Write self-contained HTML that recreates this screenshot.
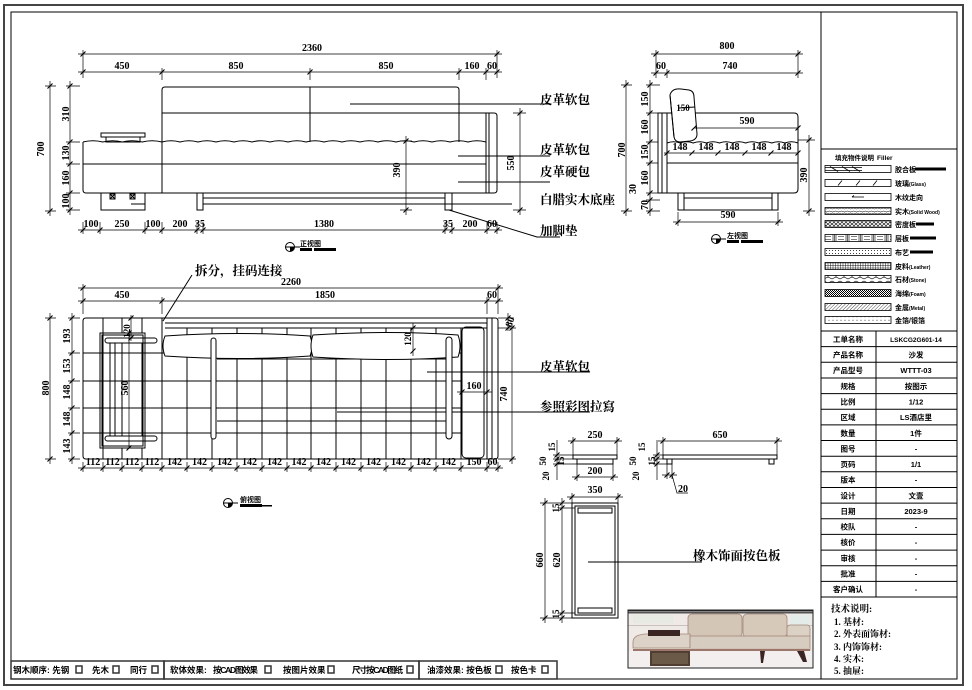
<!DOCTYPE html>
<html><head><meta charset="utf-8">
<style>
html,body{margin:0;padding:0;background:#fff;}
svg{display:block;}
.d{font-family:"Liberation Serif",serif;font-weight:bold;font-size:10px;text-anchor:middle;fill:#000;}
.ds{font-family:"Liberation Serif",serif;font-weight:bold;font-size:9px;text-anchor:middle;fill:#000;}
.L{font-family:"Liberation Serif","Noto Serif CJK SC",serif;font-weight:bold;font-size:12.5px;fill:#000;}
.t{font-family:"Liberation Sans","Noto Sans CJK SC",sans-serif;font-weight:bold;font-size:7.5px;text-anchor:middle;fill:#000;}
.lg{font-family:"Liberation Sans","Noto Sans CJK SC",sans-serif;font-weight:bold;font-size:7px;fill:#000;}
.lge{font-family:"Liberation Sans",sans-serif;font-weight:bold;font-size:5px;}
.b{font-family:"Liberation Sans","Noto Sans CJK SC",sans-serif;font-weight:bold;font-size:8.5px;fill:#000;}
.n{font-family:"Liberation Serif","Noto Serif CJK SC",serif;font-weight:bold;font-size:9px;fill:#000;}
.vt{font-family:"Liberation Sans","Noto Sans CJK SC",sans-serif;font-weight:bold;font-size:7px;fill:#000;}
</style></head><body>
<svg width="972" height="690" viewBox="0 0 972 690" xmlns="http://www.w3.org/2000/svg">
<defs>
<pattern id="pw" width="6" height="7" patternUnits="userSpaceOnUse"><path d="M0,1.5q1.5,-1 3,0t3,0M0,3.5q1.5,1 3,0t3,0M0,5.5q1.5,-1 3,0t3,0" stroke="#000" stroke-width="0.5" fill="none"/></pattern>
<pattern id="pm" width="4" height="3.5" patternUnits="userSpaceOnUse"><path d="M0,0L4,3.5M4,0L0,3.5" stroke="#000" stroke-width="0.6"/></pattern>
<pattern id="pl" width="13" height="7" patternUnits="userSpaceOnUse"><path d="M1,0V7M2.5,0V7M4,0V7M6,1.5H12M6,5.5H12" stroke="#000" stroke-width="0.6" fill="none"/></pattern>
<pattern id="pf" width="3" height="3" patternUnits="userSpaceOnUse"><circle cx="1.5" cy="1.5" r="0.5" fill="#000"/></pattern>
<pattern id="pg" width="2.5" height="2.5" patternUnits="userSpaceOnUse"><path d="M0,0.5H2.5M0.5,0V2.5" stroke="#000" stroke-width="0.45"/></pattern>
<pattern id="ps" width="8" height="7" patternUnits="userSpaceOnUse"><path d="M0,1L4,3L8,1M0,6L4,4L8,6M4,3V4" stroke="#000" stroke-width="0.6" fill="none"/></pattern>
<pattern id="pfo" width="2" height="2" patternUnits="userSpaceOnUse"><rect width="1" height="1" fill="#000"/><rect x="1" y="1" width="1" height="1" fill="#000"/></pattern>
<pattern id="pme" width="2.5" height="2.5" patternUnits="userSpaceOnUse" patternTransform="rotate(45)"><path d="M0,0V2.5" stroke="#000" stroke-width="0.7"/></pattern>
<pattern id="pd" width="4" height="3.5" patternUnits="userSpaceOnUse"><circle cx="1" cy="1.75" r="0.45" fill="#000"/></pattern>
</defs>
<rect width="972" height="690" fill="#fff"/>

<!-- frames -->
<rect x="4" y="5" width="959" height="680" fill="none" stroke="#444" stroke-width="2"/>
<rect x="11" y="12" width="946" height="667" fill="none" stroke="#000" stroke-width="1"/>
<g stroke="#000" stroke-width="1" fill="none">
<path d="M821,12V679M821,149H957M821,331H957M876,331V597M821,597H957"/>
<path d="M821,346.6H957M821,362.3H957M821,378H957M821,393.6H957M821,409.2H957M821,424.9H957M821,440.5H957M821,456.2H957M821,471.8H957M821,487.5H957M821,503.1H957M821,518.8H957M821,534.4H957M821,550.1H957M821,565.7H957M821,581.4H957"/>
</g>

<!-- ================= FRONT VIEW ================= -->
<g stroke="#000" stroke-width="1" fill="none">
<path d="M162,193V90q0,-3 3,-3H456q3,0 3,3V142"/>
<path d="M310,87V142"/>
<path d="M162,113H486"/>
<path d="M83,142q9.9,-2.5 19.75,0q9.9,-2.5 19.75,0q9.9,-2.5 19.75,0q9.9,-2.5 19.75,0q9,-2.5 18,0q9,-2.5 18,0q9,-2.5 18,0q9,-2.5 18,0q9,-2.5 18,0q9,-2.5 18,0q9,-2.5 18,0q9,-2.5 18,0q9,-2.5 18,0q9,-2.5 18,0q9,-2.5 18,0q9,-2.5 18,0q9,-2.5 18,0q9,-2.5 18,0q9,-2.5 18,0q9,-2.5 18,0q9,-2.5 18,0q9,-2.5 18,0"/>
<path d="M83,142V190q0,3 3,3H486V113"/>
<path d="M83,164H486"/>
<path d="M486,113H494q3,0 3,3V190q0,3 -3,3H486M489,113V193"/>
<rect x="101" y="133" width="44" height="4"/>
<rect x="106" y="137" width="34" height="5"/>
<rect x="101" y="193" width="44" height="17"/>
<rect x="110" y="194" width="5" height="5"/><path d="M110,194l5,5M115,194l-5,5"/>
<rect x="130" y="194" width="5" height="5"/><path d="M130,194l5,5M135,194l-5,5"/>
<path d="M131,204H145"/>
<rect x="197" y="193" width="6" height="17"/>
<rect x="445" y="193" width="7" height="17"/>
<path d="M203,198H445M203,204H512"/>
<path d="M449,210L537,237H560"/>
<path d="M350,104H550M458,156H550M458,182H550"/>
</g>
<g stroke="#000" stroke-width="0.7" fill="none">
<path d="M78,54H502M78,72H502M83,50V78M497,50V78M162,68V80M310,68V80M459,68V80M486,68V80"/>
<path d="M50,81V216M45,86H56M45,211H56M70,81V215M66,86H80M66,142H80M66,164H80M66,193H80M66,210H80"/>
<path d="M78,230H502M83,222V234M100,222V234M145,222V234M162,222V234M197,222V234M203,222V234M445,222V234M452,222V234M487,222V234M497,222V234"/>
<path d="M520,108V215M513,113H526M513,210H526"/>
<path d="M406,136V215M400,141H412M400,210H412"/>
</g>
<path stroke="#000" stroke-width="1.1" fill="none" d="M80.5,56.5l5,-5M494.5,56.5l5,-5M80.5,74.5l5,-5M159.5,74.5l5,-5M307.5,74.5l5,-5M456.5,74.5l5,-5M483.5,74.5l5,-5M494.5,74.5l5,-5M47.5,88.5l5,-5M47.5,213.5l5,-5M67.5,88.5l5,-5M67.5,144.5l5,-5M67.5,166.5l5,-5M67.5,195.5l5,-5M67.5,212.5l5,-5M80.5,232.5l5,-5M97.5,232.5l5,-5M142.5,232.5l5,-5M159.5,232.5l5,-5M194.5,232.5l5,-5M200.5,232.5l5,-5M442.5,232.5l5,-5M449.5,232.5l5,-5M484.5,232.5l5,-5M494.5,232.5l5,-5M517.5,115.5l5,-5M517.5,212.5l5,-5M403.5,143.5l5,-5M403.5,212.5l5,-5"/>
<g>
<text class="d" x="312" y="51">2360</text>
<text class="d" x="122" y="69">450</text>
<text class="d" x="236" y="69">850</text>
<text class="d" x="386" y="69">850</text>
<text class="d" x="472" y="69">160</text>
<text class="d" x="492" y="69">60</text>
<text class="d" x="44" y="149" transform="rotate(-90 44 149)">700</text>
<text class="d" x="69" y="114" transform="rotate(-90 69 114)">310</text>
<text class="d" x="69" y="153" transform="rotate(-90 69 153)">130</text>
<text class="d" x="69" y="178" transform="rotate(-90 69 178)">160</text>
<text class="d" x="69" y="201" transform="rotate(-90 69 201)">100</text>
<text class="d" x="91" y="227">100</text>
<text class="d" x="122" y="227">250</text>
<text class="d" x="153" y="227">100</text>
<text class="d" x="180" y="227">200</text>
<text class="d" x="200" y="227">35</text>
<text class="d" x="324" y="227">1380</text>
<text class="d" x="448" y="227">35</text>
<text class="d" x="470" y="227">200</text>
<text class="d" x="492" y="227">60</text>
<text class="d" x="514" y="163" transform="rotate(-90 514 163)">550</text>
<text class="d" x="400" y="170" transform="rotate(-90 400 170)">390</text>
<text class="L" x="540" y="104">皮革软包</text>
<text class="L" x="540" y="154">皮革软包</text>
<text class="L" x="540" y="176">皮革硬包</text>
<text class="L" x="540" y="204">白腊实木底座</text>
<text class="L" x="540" y="235">加脚垫</text>
</g>
<!-- view title front -->
<g stroke="#000" fill="none" stroke-width="1"><circle cx="290" cy="247" r="4.5"/><path d="M285,247H300"/></g>
<path d="M290,247h4.5a4.5,4.5 0 0 1 -4.5,4.5z" fill="#000"/>
<text class="vt" x="300" y="246">正视图</text>
<rect x="300" y="248" width="12" height="3" fill="#000"/><rect x="314" y="248" width="22" height="3" fill="#000"/>

<!-- ================= SIDE VIEW ================= -->
<g stroke="#000" stroke-width="1" fill="none">
<rect x="658" y="113" width="9" height="80"/>
<path d="M662,113V193"/>
<path d="M667,113H794q4,0 4,4V189q0,4 -4,4H667"/>
<path d="M667,143q6.5,-2.5 13.1,0q6.5,-2.5 13.1,0q6.5,-2.5 13.1,0q6.5,-2.5 13.1,0q6.5,-2.5 13.1,0q6.5,-2.5 13.1,0q6.5,-2.5 13.1,0q6.5,-2.5 13.1,0q6.5,-2.5 13.1,0q6.5,-2.5 13.1,0"/>
<path d="M667,163H798"/>
<path d="M670,95Q672,88 681,89L689,90Q694,91 694,97L697,134Q697,140 690,141L680,142Q675,142 674,137Z" fill="#fff"/>
<path d="M674,137L670,95M679,108L695,107"/>
<rect x="678" y="193" width="100" height="17"/>
<path d="M684,193V210M772,193V210M684,198H772"/>
</g>
<g stroke="#000" stroke-width="0.7" fill="none">
<path d="M651,54H803M651,73H803M656,50V78M798,50V78M667,69V78"/>
<path d="M626,80V216M621,85H632M621,211H632"/>
<path d="M650,80V216M646,85H660M646,113H658M646,142H658M646,163H658M646,193H658M646,200H660M646,211H660"/>
<path d="M809,135V216M798,140H815M803,211H815"/>
<path d="M673,222H783M678,212V226M778,212V226"/>
<path d="M694,128H798M664,153H798"/>
</g>
<path stroke="#000" stroke-width="1.1" fill="none" d="M653.5,56.5l5,-5M795.5,56.5l5,-5M653.5,75.5l5,-5M664.5,75.5l5,-5M795.5,75.5l5,-5M623.5,87.5l5,-5M623.5,213.5l5,-5M647.5,87.5l5,-5M647.5,115.5l5,-5M647.5,144.5l5,-5M647.5,165.5l5,-5M647.5,195.5l5,-5M647.5,202.5l5,-5M647.5,213.5l5,-5M806.5,142.5l5,-5M806.5,213.5l5,-5M675.5,224.5l5,-5M775.5,224.5l5,-5M691.5,130.5l5,-5M795.5,130.5l5,-5M664.5,155.5l5,-5M689.5,155.5l5,-5M715.5,155.5l5,-5M742.5,155.5l5,-5M768.5,155.5l5,-5M795.5,155.5l5,-5"/>
<g>
<text class="d" x="727" y="49">800</text>
<text class="d" x="661" y="69">60</text>
<text class="d" x="730" y="69">740</text>
<text class="ds" x="683" y="111">150</text>
<text class="d" x="747" y="124">590</text>
<text class="d" x="680" y="150">148</text>
<text class="d" x="706" y="150">148</text>
<text class="d" x="732" y="150">148</text>
<text class="d" x="759" y="150">148</text>
<text class="d" x="784" y="150">148</text>
<text class="d" x="728" y="218">590</text>
<text class="d" x="625" y="150" transform="rotate(-90 625 150)">700</text>
<text class="d" x="648" y="99" transform="rotate(-90 648 99)">150</text>
<text class="d" x="648" y="127" transform="rotate(-90 648 127)">160</text>
<text class="d" x="648" y="152" transform="rotate(-90 648 152)">150</text>
<text class="d" x="648" y="178" transform="rotate(-90 648 178)">160</text>
<text class="d" x="636" y="189" transform="rotate(-90 636 189)">30</text>
<text class="d" x="648" y="205" transform="rotate(-90 648 205)">70</text>
<text class="d" x="807" y="175" transform="rotate(-90 807 175)">390</text>
</g>
<g stroke="#000" fill="none" stroke-width="1"><circle cx="716" cy="239" r="4.5"/><path d="M711,239H726"/></g>
<path d="M716,239h4.5a4.5,4.5 0 0 1 -4.5,4.5z" fill="#000"/>
<text class="vt" x="727" y="238">左视图</text>
<rect x="727" y="240" width="12" height="3" fill="#000"/><rect x="741" y="240" width="22" height="3" fill="#000"/>

<!-- ================= PLAN VIEW ================= -->
<g stroke="#000" stroke-width="1" fill="none">
<path d="M86,318H495q3,0 3,3V456q0,3 -3,3H86q-3,0 -3,-3V321q0,-3 3,-3Z"/>
<path d="M162,318V459M165,323H487M165,328H487M487,318V459M492,318V459"/>
<rect x="462" y="327" width="22" height="131" rx="4"/>
<path d="M103,318V459M122,318V333M122,448V459M142,318V333M142,448V459"/>
<path d="M187,328V459M212,328V459M237,328V459M262,328V459M287,328V459M311,328V459M336,328V459M361,328V459M386,328V459M411,328V459M436,328V459M461,328V459"/>
<path d="M83,353H462M83,381H462M83,408H462M83,433H462"/>
<path d="M217,359H446M337,412H590M217,421H446"/>
<rect x="100" y="333" width="45" height="115"/>
<rect x="102" y="335" width="41" height="111"/>
<rect x="105" y="338" width="52" height="5" rx="2.5"/>
<rect x="105" y="436" width="52" height="5" rx="2.5"/>
<path d="M110,343V436M115,343V436M122,343V436M142,343V436"/>
<path d="M165,336Q240,331 310,336Q314,346 310,356Q240,361 165,356Q161,346 165,336Z" fill="#fff"/>
<path d="M313,335Q390,330 458,335Q462,346 458,357Q390,362 313,357Q309,346 313,335Z" fill="#fff"/>
<rect x="211" y="338" width="5" height="101" rx="2.5" fill="#fff"/>
<rect x="446" y="337" width="6" height="102" rx="3" fill="#fff"/>
<path d="M163,321L192,275"/>
<path d="M427,372H590"/>
</g>
<g stroke="#000" stroke-width="0.7" fill="none">
<path d="M78,288H503M78,301H503M83,284V314M498,284V314M162,297V314M487,297V314"/>
<path d="M50,313V464M45,318H56M45,459H56M72,313V464M68,318H80M68,353H80M68,381H80M68,408H80M68,433H80M68,459H80"/>
<path d="M78,468H503M83,462V472M103,462V472M122,462V472M142,462V472M162,462V472M187,462V472M212,462V472M237,462V472M262,462V472M287,462V472M311,462V472M336,462V472M361,462V472M386,462V472M411,462V472M436,462V472M461,462V472M487,462V472M498,462V472"/>
<path d="M508,313V331M498,318H514M512,323V464M498,459H516M498,328H516"/>
<path d="M457,392H492M413,323V356M131,315V341M129,333V448"/>
</g>
<path stroke="#000" stroke-width="1.1" fill="none" d="M80.5,290.5l5,-5M495.5,290.5l5,-5M80.5,303.5l5,-5M159.5,303.5l5,-5M484.5,303.5l5,-5M495.5,303.5l5,-5M47.5,320.5l5,-5M47.5,461.5l5,-5M69.5,320.5l5,-5M69.5,355.5l5,-5M69.5,383.5l5,-5M69.5,410.5l5,-5M69.5,435.5l5,-5M69.5,461.5l5,-5M80.5,470.5l5,-5M100.5,470.5l5,-5M119.5,470.5l5,-5M139.5,470.5l5,-5M159.5,470.5l5,-5M184.5,470.5l5,-5M209.5,470.5l5,-5M234.5,470.5l5,-5M259.5,470.5l5,-5M284.5,470.5l5,-5M308.5,470.5l5,-5M333.5,470.5l5,-5M358.5,470.5l5,-5M383.5,470.5l5,-5M408.5,470.5l5,-5M433.5,470.5l5,-5M458.5,470.5l5,-5M484.5,470.5l5,-5M495.5,470.5l5,-5M505.5,320.5l5,-5M505.5,330.5l5,-5M509.5,330.5l5,-5M509.5,461.5l5,-5M459.5,394.5l5,-5M484.5,394.5l5,-5M410.5,330.5l5,-5M410.5,353.5l5,-5M128.5,320.5l5,-5M128.5,340.5l5,-5M126.5,335.5l5,-5M126.5,450.5l5,-5"/>
<g>
<text class="d" x="291" y="285">2260</text>
<text class="d" x="122" y="298">450</text>
<text class="d" x="325" y="298">1850</text>
<text class="d" x="492" y="298">60</text>
<text class="d" x="49" y="388" transform="rotate(-90 49 388)">800</text>
<text class="d" x="70" y="336" transform="rotate(-90 70 336)">193</text>
<text class="d" x="70" y="366" transform="rotate(-90 70 366)">153</text>
<text class="d" x="70" y="392" transform="rotate(-90 70 392)">148</text>
<text class="d" x="70" y="419" transform="rotate(-90 70 419)">148</text>
<text class="d" x="70" y="446" transform="rotate(-90 70 446)">143</text>
<text class="ds" x="130" y="331" transform="rotate(-90 130 331)">120</text>
<text class="d" x="128" y="388" transform="rotate(-90 128 388)">560</text>
<text class="ds" x="411" y="339" transform="rotate(-90 411 339)">120</text>
<text class="d" x="513" y="323" transform="rotate(-70 513 323)">80</text>
<text class="d" x="507" y="394" transform="rotate(-90 507 394)">740</text>
<text class="d" x="474" y="389">160</text>
<text class="d" x="93" y="465">112</text>
<text class="d" x="112.5" y="465">112</text>
<text class="d" x="132" y="465">112</text>
<text class="d" x="152" y="465">112</text>
<text class="d" x="174.5" y="465">142</text>
<text class="d" x="199.5" y="465">142</text>
<text class="d" x="224.5" y="465">142</text>
<text class="d" x="249.5" y="465">142</text>
<text class="d" x="274.5" y="465">142</text>
<text class="d" x="299" y="465">142</text>
<text class="d" x="323.5" y="465">142</text>
<text class="d" x="348.5" y="465">142</text>
<text class="d" x="373.5" y="465">142</text>
<text class="d" x="398.5" y="465">142</text>
<text class="d" x="423.5" y="465">142</text>
<text class="d" x="448.5" y="465">142</text>
<text class="d" x="474" y="465">150</text>
<text class="d" x="492.5" y="465">60</text>
<text class="L" x="195" y="275">拆分，挂码连接</text>
<text class="L" x="540" y="371">皮革软包</text>
<text class="L" x="540" y="411">参照彩图拉寫</text>
</g>
<g stroke="#000" fill="none" stroke-width="1"><circle cx="228" cy="503" r="4.5"/><path d="M223,503H238"/></g>
<path d="M228,503h4.5a4.5,4.5 0 0 1 -4.5,4.5z" fill="#000"/>
<text class="vt" x="240" y="502">俯视图</text>
<rect x="240" y="504" width="22" height="3" fill="#000"/><rect x="262" y="505" width="10" height="1.5" fill="#000"/>

<!-- ================= SMALL PARTS ================= -->
<g stroke="#000" stroke-width="1" fill="none">
<rect x="573" y="455" width="44" height="4"/>
<rect x="577" y="459" width="36" height="5"/>
<rect x="663" y="455" width="114" height="4"/>
<rect x="667" y="459" width="5" height="5"/>
<rect x="769" y="459" width="5" height="5"/>
<rect x="572" y="503" width="46" height="115"/>
<rect x="575" y="506" width="40" height="109"/>
<rect x="578" y="508" width="34" height="5"/>
<rect x="578" y="608" width="34" height="5"/>
<path d="M588,562H702"/>
</g>
<g stroke="#000" stroke-width="0.7" fill="none">
<path d="M568,441H622M573,437V455M617,437V455M572,477H618M577,464V481M613,464V481M557,440V480M553,455H573M553,459H577M553,464H577"/>
<path d="M658,441H782M663,437V455M777,437V455M657,440V480M653,455H663M653,459H663M653,464H667M662,475H677M672,475L677,493H688M667,464V479M672,464V479"/>
<path d="M567,497H623M572,493V503M618,493V503M545,498V623M540,503H572M540,618H572M562,498V623M558,508H575M558,613H575"/>
</g>
<path stroke="#000" stroke-width="1.1" fill="none" d="M570.5,443.5l5,-5M614.5,443.5l5,-5M574.5,479.5l5,-5M610.5,479.5l5,-5M554.5,457.5l5,-5M554.5,461.5l5,-5M554.5,466.5l5,-5M660.5,443.5l5,-5M774.5,443.5l5,-5M654.5,457.5l5,-5M654.5,461.5l5,-5M654.5,466.5l5,-5M664.5,477.5l5,-5M669.5,477.5l5,-5M569.5,499.5l5,-5M615.5,499.5l5,-5M542.5,505.5l5,-5M542.5,620.5l5,-5M559.5,505.5l5,-5M559.5,510.5l5,-5M559.5,615.5l5,-5M559.5,620.5l5,-5"/>
<g>
<text class="d" x="595" y="438">250</text>
<text class="d" x="595" y="474">200</text>
<text class="ds" x="555" y="447" transform="rotate(-90 555 447)">15</text>
<text class="ds" x="546" y="461" transform="rotate(-90 546 461)">50</text>
<text class="ds" x="564" y="461" transform="rotate(-90 564 461)">15</text>
<text class="ds" x="549" y="476" transform="rotate(-90 549 476)">20</text>
<text class="d" x="720" y="438">650</text>
<text class="ds" x="645" y="447" transform="rotate(-90 645 447)">15</text>
<text class="ds" x="636" y="461" transform="rotate(-90 636 461)">50</text>
<text class="ds" x="655" y="461" transform="rotate(-90 655 461)">15</text>
<text class="ds" x="639" y="476" transform="rotate(-90 639 476)">20</text>
<text class="d" x="683" y="492">20</text>
<text class="d" x="595" y="493">350</text>
<text class="d" x="543" y="560" transform="rotate(-90 543 560)">660</text>
<text class="d" x="560" y="560" transform="rotate(-90 560 560)">620</text>
<text class="ds" x="559" y="508" transform="rotate(-90 559 508)">15</text>
<text class="ds" x="559" y="614" transform="rotate(-90 559 614)">15</text>
<text class="L" x="693" y="560">橡木饰面按色板</text>
</g>

<!-- ================= PHOTO ================= -->
<g>
<rect x="628" y="610" width="185" height="58" fill="#efeae6"/>
<rect x="628" y="610" width="185" height="1.5" fill="#222"/>
<rect x="628" y="612" width="185" height="1.5" fill="#555"/>
<rect x="628" y="625" width="185" height="1" fill="#c9c2bc"/>
<rect x="633" y="615" width="40" height="8" fill="#e6eae2"/>
<rect x="790" y="615" width="20" height="10" fill="#e4ecea"/>
<rect x="688" y="614" width="54" height="23" rx="4" fill="#d3c6b6" stroke="#a4887a" stroke-width="0.8"/>
<rect x="743" y="614" width="44" height="23" rx="4" fill="#d6c9ba" stroke="#a4887a" stroke-width="0.8"/>
<rect x="787" y="625" width="23" height="14" rx="3" fill="#dcd1c5" stroke="#a4887a" stroke-width="0.8"/>
<path d="M633,648V642Q633,635 645,634H690V648Z" fill="#dcd2c7" stroke="#a4887a" stroke-width="0.8"/>
<rect x="690" y="636" width="120" height="14" fill="#d7ccc0" stroke="#a4887a" stroke-width="0.8"/>
<rect x="633" y="648" width="177" height="3" fill="#cfc2b4"/>
<path d="M633,650H810" stroke="#6b2a22" stroke-width="1"/>
<rect x="648" y="630" width="32" height="6" fill="#3a2522"/>
<rect x="628" y="651" width="185" height="17" fill="#f3efef"/>
<rect x="650" y="651" width="40" height="15" fill="#4f3e31"/>
<rect x="652" y="653" width="36" height="11" fill="#6a5a47"/>
<path d="M760,651H765L763,663H761Z" fill="#3a2522"/>
<path d="M797,651H804L807,662H803Z" fill="#3a2522"/>
<rect x="628" y="610" width="185" height="58" fill="none" stroke="#222" stroke-width="1"/>
</g>

<!-- ================= BOTTOM BAR ================= -->
<g stroke="#333" stroke-width="1.5" fill="none">
<rect x="11" y="661" width="153" height="18"/>
<rect x="164" y="661" width="255" height="18"/>
<rect x="419" y="661" width="138" height="18"/>
<rect x="76" y="666" width="6" height="7"/>
<rect x="113" y="666" width="6" height="7"/>
<rect x="152" y="666" width="6" height="7"/>
<rect x="265" y="666" width="6" height="7"/>
<rect x="328" y="666" width="6" height="7"/>
<rect x="407" y="666" width="6" height="7"/>
<rect x="496" y="666" width="6" height="7"/>
<rect x="542" y="666" width="6" height="7"/>
</g>
<g class="b">
<text class="b" x="13" y="673">钢木顺序: 先钢</text>
<text class="b" x="92" y="673">先木</text>
<text class="b" x="130" y="673">同行</text>
<text class="b" x="170" y="673">软体效果:</text>
<text class="b" x="213" y="673" textLength="45">按CAD图效果</text>
<text class="b" x="283" y="673">按图片效果</text>
<text class="b" x="352" y="673" textLength="51">尺寸按CAD图纸</text>
<text class="b" x="427" y="673">油漆效果: 按色板</text>
<text class="b" x="511" y="673">按色卡</text>
</g>

<!-- ================= LEGEND ================= -->
<text class="lg" x="835" y="160" style="font-size:6.5px">填充物件说明</text>
<text class="lg" x="877" y="160" style="font-size:6.5px;font-family:'Liberation Sans',sans-serif">Filler</text>
<g stroke="#000" stroke-width="0.8" fill="none">
<rect x="825" y="165.5" width="66" height="7"/>
<path d="M825,167.5H862M825,170.5H862M830,166.5L838,171.5M842,166.5L850,171.5M852,166.5L860,171.5"/>
<rect x="825" y="179.5" width="66" height="7"/>
<path d="M838,185.5L842,180.5M856,185.5L860,180.5M873,185.5L877,180.5"/>
<rect x="825" y="193.5" width="66" height="7"/>
<path d="M852,197H864M852,197l2,-1.5"/>
<rect x="825" y="207.5" width="66" height="7" fill="url(#pw)"/>
<rect x="825" y="220.5" width="66" height="7" fill="url(#pm)"/>
<rect x="825" y="234.5" width="66" height="7" fill="url(#pl)"/>
<rect x="825" y="248.5" width="66" height="7" fill="url(#pf)"/>
<rect x="825" y="262.5" width="66" height="7" fill="url(#pg)"/>
<rect x="825" y="275.5" width="66" height="7" fill="url(#ps)"/>
<rect x="825" y="289.5" width="66" height="7" fill="url(#pfo)"/>
<rect x="825" y="303.5" width="66" height="7" fill="url(#pme)"/>
<rect x="825" y="316.5" width="66" height="7" fill="url(#pd)"/>
</g>
<g class="lg">
<text class="lg" x="895" y="172">胶合板</text><rect x="915" y="167.5" width="31" height="3" fill="#000"/>
<text class="lg" x="895" y="186">玻璃<tspan class="lge">(Glass)</tspan></text>
<text class="lg" x="895" y="200">木纹走向</text>
<text class="lg" x="895" y="214">实木<tspan class="lge">(Solid Wood)</tspan></text>
<text class="lg" x="895" y="227">密度板</text><rect x="916" y="222.5" width="18" height="3" fill="#000"/>
<text class="lg" x="895" y="241">层板</text><rect x="910" y="236.5" width="26" height="3" fill="#000"/>
<text class="lg" x="895" y="255">布艺</text><rect x="910" y="250.5" width="23" height="3" fill="#000"/>
<text class="lg" x="895" y="269">皮料<tspan class="lge">(Leather)</tspan></text>
<text class="lg" x="895" y="282">石材<tspan class="lge">(Stone)</tspan></text>
<text class="lg" x="895" y="296">海绵<tspan class="lge">(Foam)</tspan></text>
<text class="lg" x="895" y="310">金属<tspan class="lge">(Metal)</tspan></text>
<text class="lg" x="895" y="323">金箔/银箔</text>
</g>

<!-- ================= TABLE ================= -->
<g>
<text class="t" x="848" y="342">工单名称</text><text class="t" x="916" y="342" style="font-size:6.5px">LSKCG2G601-14</text>
<text class="t" x="848" y="357.5">产品名称</text><text class="t" x="916" y="357.5">沙发</text>
<text class="t" x="848" y="373">产品型号</text><text class="t" x="916" y="373">WTTT-03</text>
<text class="t" x="848" y="389">规格</text><text class="t" x="916" y="389">按图示</text>
<text class="t" x="848" y="404.5">比例</text><text class="t" x="916" y="404.5">1/12</text>
<text class="t" x="848" y="420">区域</text><text class="t" x="916" y="420">LS酒店里</text>
<text class="t" x="848" y="436">数量</text><text class="t" x="916" y="436">1件</text>
<text class="t" x="848" y="451.5">图号</text><text class="t" x="916" y="451.5">-</text>
<text class="t" x="848" y="467">页码</text><text class="t" x="916" y="467">1/1</text>
<text class="t" x="848" y="482.5">版本</text><text class="t" x="916" y="482.5">-</text>
<text class="t" x="848" y="498.5">设计</text><text class="t" x="916" y="498.5">文壹</text>
<text class="t" x="848" y="514">日期</text><text class="t" x="916" y="514">2023-9</text>
<text class="t" x="848" y="529.5">校队</text><text class="t" x="916" y="529.5">-</text>
<text class="t" x="848" y="545">核价</text><text class="t" x="916" y="545">-</text>
<text class="t" x="848" y="561">审核</text><text class="t" x="916" y="561">-</text>
<text class="t" x="848" y="576.5">批准</text><text class="t" x="916" y="576.5">-</text>
<text class="t" x="848" y="592">客户确认</text><text class="t" x="916" y="592">-</text>
</g>
<g>
<text class="n" x="831" y="612" style="font-size:9.5px">技术说明:</text>
<text class="n" x="834" y="625">1. 基材:</text>
<text class="n" x="834" y="637">2. 外表面饰材:</text>
<text class="n" x="834" y="650">3. 内饰饰材:</text>
<text class="n" x="834" y="662">4. 实木:</text>
<text class="n" x="834" y="674">5. 抽屉:</text>
</g>
</svg>
</body></html>
